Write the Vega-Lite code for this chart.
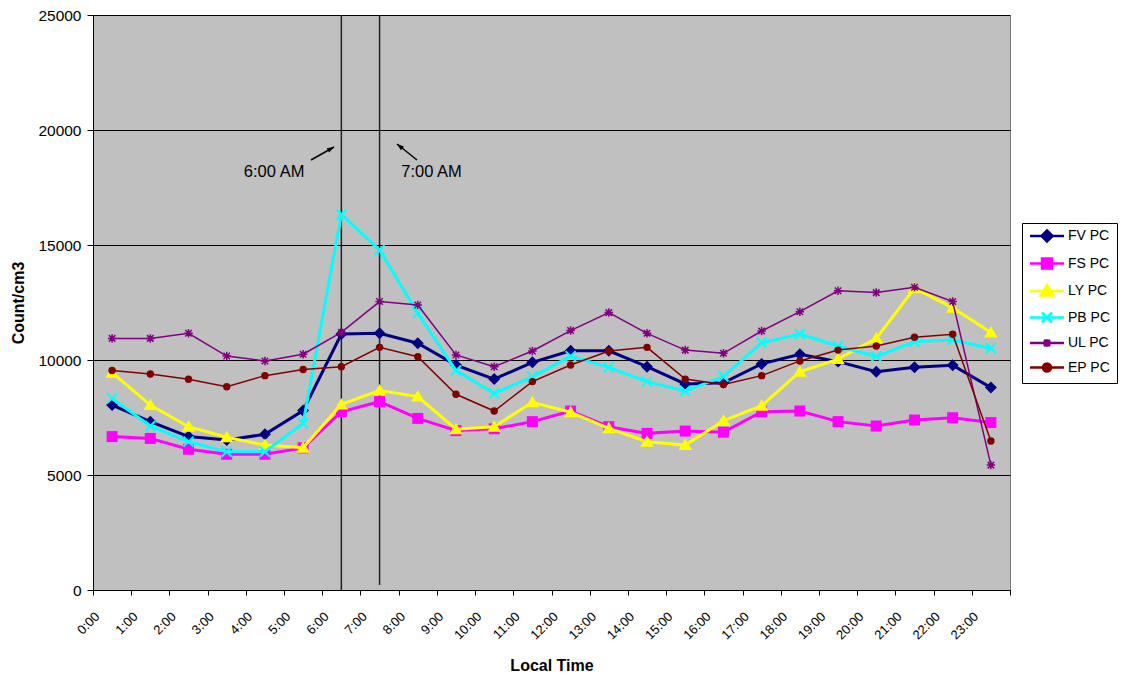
{
  "$schema": "https://vega.github.io/schema/vega-lite/v6.json",
  "width": 917,
  "height": 575,
  "autosize": "none",
  "padding": {"left": 93, "top": 15, "right": 112, "bottom": 88},
  "background": "white",
  "config": {
    "font": "Liberation Sans",
    "view": {"fill": "#C0C0C0", "stroke": "#808080", "strokeWidth": 1},
    "axis": {"domainColor": "black", "tickColor": "black", "gridColor": "black", "labelColor": "black", "titleColor": "black", "labelFont": "Liberation Sans", "titleFont": "Liberation Sans"},
    "legend": {"labelFont": "Liberation Sans", "labelFontSize": 14, "labelColor": "black"}
  },
  "datasets": {
    "pc": [
      {"t": 0.5, "series": "FV PC", "value": 8040}, {"t": 1.5, "series": "FV PC", "value": 7320}, {"t": 2.5, "series": "FV PC", "value": 6670}, {"t": 3.5, "series": "FV PC", "value": 6520}, {"t": 4.5, "series": "FV PC", "value": 6770}, {"t": 5.5, "series": "FV PC", "value": 7800}, {"t": 6.5, "series": "FV PC", "value": 11130}, {"t": 7.5, "series": "FV PC", "value": 11160}, {"t": 8.5, "series": "FV PC", "value": 10730}, {"t": 9.5, "series": "FV PC", "value": 9780}, {"t": 10.5, "series": "FV PC", "value": 9170}, {"t": 11.5, "series": "FV PC", "value": 9900}, {"t": 12.5, "series": "FV PC", "value": 10400}, {"t": 13.5, "series": "FV PC", "value": 10400}, {"t": 14.5, "series": "FV PC", "value": 9710}, {"t": 15.5, "series": "FV PC", "value": 8960}, {"t": 16.5, "series": "FV PC", "value": 9010}, {"t": 17.5, "series": "FV PC", "value": 9830}, {"t": 18.5, "series": "FV PC", "value": 10250}, {"t": 19.5, "series": "FV PC", "value": 9930}, {"t": 20.5, "series": "FV PC", "value": 9490}, {"t": 21.5, "series": "FV PC", "value": 9680}, {"t": 22.5, "series": "FV PC", "value": 9770}, {"t": 23.5, "series": "FV PC", "value": 8800},
      {"t": 0.5, "series": "FS PC", "value": 6670}, {"t": 1.5, "series": "FS PC", "value": 6590}, {"t": 2.5, "series": "FS PC", "value": 6120}, {"t": 3.5, "series": "FS PC", "value": 5900}, {"t": 4.5, "series": "FS PC", "value": 5900}, {"t": 5.5, "series": "FS PC", "value": 6180}, {"t": 6.5, "series": "FS PC", "value": 7750}, {"t": 7.5, "series": "FS PC", "value": 8190}, {"t": 8.5, "series": "FS PC", "value": 7460}, {"t": 9.5, "series": "FS PC", "value": 6930}, {"t": 10.5, "series": "FS PC", "value": 7010}, {"t": 11.5, "series": "FS PC", "value": 7320}, {"t": 12.5, "series": "FS PC", "value": 7780}, {"t": 13.5, "series": "FS PC", "value": 7100}, {"t": 14.5, "series": "FS PC", "value": 6810}, {"t": 15.5, "series": "FS PC", "value": 6910}, {"t": 16.5, "series": "FS PC", "value": 6860}, {"t": 17.5, "series": "FS PC", "value": 7750}, {"t": 18.5, "series": "FS PC", "value": 7780}, {"t": 19.5, "series": "FS PC", "value": 7320}, {"t": 20.5, "series": "FS PC", "value": 7130}, {"t": 21.5, "series": "FS PC", "value": 7390}, {"t": 22.5, "series": "FS PC", "value": 7490}, {"t": 23.5, "series": "FS PC", "value": 7280},
      {"t": 0.5, "series": "LY PC", "value": 9450}, {"t": 1.5, "series": "LY PC", "value": 8040}, {"t": 2.5, "series": "LY PC", "value": 7100}, {"t": 3.5, "series": "LY PC", "value": 6640}, {"t": 4.5, "series": "LY PC", "value": 6300}, {"t": 5.5, "series": "LY PC", "value": 6190}, {"t": 6.5, "series": "LY PC", "value": 8070}, {"t": 7.5, "series": "LY PC", "value": 8670}, {"t": 8.5, "series": "LY PC", "value": 8410}, {"t": 9.5, "series": "LY PC", "value": 6990}, {"t": 10.5, "series": "LY PC", "value": 7100}, {"t": 11.5, "series": "LY PC", "value": 8160}, {"t": 12.5, "series": "LY PC", "value": 7730}, {"t": 13.5, "series": "LY PC", "value": 7030}, {"t": 14.5, "series": "LY PC", "value": 6450}, {"t": 15.5, "series": "LY PC", "value": 6300}, {"t": 16.5, "series": "LY PC", "value": 7360}, {"t": 17.5, "series": "LY PC", "value": 8010}, {"t": 18.5, "series": "LY PC", "value": 9490}, {"t": 19.5, "series": "LY PC", "value": 10040}, {"t": 20.5, "series": "LY PC", "value": 10940}, {"t": 21.5, "series": "LY PC", "value": 13120}, {"t": 22.5, "series": "LY PC", "value": 12270}, {"t": 23.5, "series": "LY PC", "value": 11200},
      {"t": 0.5, "series": "PB PC", "value": 8330}, {"t": 1.5, "series": "PB PC", "value": 7130}, {"t": 2.5, "series": "PB PC", "value": 6450}, {"t": 3.5, "series": "PB PC", "value": 6010}, {"t": 4.5, "series": "PB PC", "value": 6010}, {"t": 5.5, "series": "PB PC", "value": 7250}, {"t": 6.5, "series": "PB PC", "value": 16330}, {"t": 7.5, "series": "PB PC", "value": 14780}, {"t": 8.5, "series": "PB PC", "value": 12030}, {"t": 9.5, "series": "PB PC", "value": 9540}, {"t": 10.5, "series": "PB PC", "value": 8550}, {"t": 11.5, "series": "PB PC", "value": 9270}, {"t": 12.5, "series": "PB PC", "value": 10170}, {"t": 13.5, "series": "PB PC", "value": 9680}, {"t": 14.5, "series": "PB PC", "value": 9060}, {"t": 15.5, "series": "PB PC", "value": 8650}, {"t": 16.5, "series": "PB PC", "value": 9280}, {"t": 17.5, "series": "PB PC", "value": 10750}, {"t": 18.5, "series": "PB PC", "value": 11130}, {"t": 19.5, "series": "PB PC", "value": 10610}, {"t": 20.5, "series": "PB PC", "value": 10150}, {"t": 21.5, "series": "PB PC", "value": 10800}, {"t": 22.5, "series": "PB PC", "value": 10870}, {"t": 23.5, "series": "PB PC", "value": 10510},
      {"t": 0.5, "series": "UL PC", "value": 10940}, {"t": 1.5, "series": "UL PC", "value": 10940}, {"t": 2.5, "series": "UL PC", "value": 11160}, {"t": 3.5, "series": "UL PC", "value": 10170}, {"t": 4.5, "series": "UL PC", "value": 9960}, {"t": 5.5, "series": "UL PC", "value": 10250}, {"t": 6.5, "series": "UL PC", "value": 11200}, {"t": 7.5, "series": "UL PC", "value": 12540}, {"t": 8.5, "series": "UL PC", "value": 12390}, {"t": 9.5, "series": "UL PC", "value": 10220}, {"t": 10.5, "series": "UL PC", "value": 9710}, {"t": 11.5, "series": "UL PC", "value": 10390}, {"t": 12.5, "series": "UL PC", "value": 11280}, {"t": 13.5, "series": "UL PC", "value": 12060}, {"t": 14.5, "series": "UL PC", "value": 11160}, {"t": 15.5, "series": "UL PC", "value": 10430}, {"t": 16.5, "series": "UL PC", "value": 10290}, {"t": 17.5, "series": "UL PC", "value": 11260}, {"t": 18.5, "series": "UL PC", "value": 12100}, {"t": 19.5, "series": "UL PC", "value": 13010}, {"t": 20.5, "series": "UL PC", "value": 12930}, {"t": 21.5, "series": "UL PC", "value": 13160}, {"t": 22.5, "series": "UL PC", "value": 12540}, {"t": 23.5, "series": "UL PC", "value": 5430},
      {"t": 0.5, "series": "EP PC", "value": 9540}, {"t": 1.5, "series": "EP PC", "value": 9390}, {"t": 2.5, "series": "EP PC", "value": 9160}, {"t": 3.5, "series": "EP PC", "value": 8840}, {"t": 4.5, "series": "EP PC", "value": 9320}, {"t": 5.5, "series": "EP PC", "value": 9590}, {"t": 6.5, "series": "EP PC", "value": 9710}, {"t": 7.5, "series": "EP PC", "value": 10550}, {"t": 8.5, "series": "EP PC", "value": 10140}, {"t": 9.5, "series": "EP PC", "value": 8510}, {"t": 10.5, "series": "EP PC", "value": 7780}, {"t": 11.5, "series": "EP PC", "value": 9060}, {"t": 12.5, "series": "EP PC", "value": 9780}, {"t": 13.5, "series": "EP PC", "value": 10390}, {"t": 14.5, "series": "EP PC", "value": 10550}, {"t": 15.5, "series": "EP PC", "value": 9170}, {"t": 16.5, "series": "EP PC", "value": 8940}, {"t": 17.5, "series": "EP PC", "value": 9320}, {"t": 18.5, "series": "EP PC", "value": 9960}, {"t": 19.5, "series": "EP PC", "value": 10430}, {"t": 20.5, "series": "EP PC", "value": 10610}, {"t": 21.5, "series": "EP PC", "value": 10990}, {"t": 22.5, "series": "EP PC", "value": 11120}, {"t": 23.5, "series": "EP PC", "value": 6480}
    ],
    "vlines": [
      {"t": 6.5, "value": 0, "value2": 25000},
      {"t": 7.5, "value": 220, "value2": 25000}
    ],
    "notes": [
      {"label": "6:00 AM", "t": 4.74, "value": 18170},
      {"label": "7:00 AM", "t": 8.86, "value": 18170}
    ],
    "arrows": [
      {"id": "a6", "t": 6.308, "value": 19261, "t2": 5.706, "value2": 18696},
      {"id": "a7", "t": 7.957, "value": 19391, "t2": 8.48, "value2": 18696}
    ]
  },
  "encoding": {
    "x": {"field": "t", "type": "quantitative", "scale": {"domain": [0, 24], "nice": false, "zero": false},
      "axis": {"title": "Local Time", "titleFontSize": 16, "titleFontWeight": "bold", "titlePadding": 16, "values": [0,1,2,3,4,5,6,7,8,9,10,11,12,13,14,15,16,17,18,19,20,21,22,23,24], "labelExpr": "datum.value < 24 ? datum.value + ':00' : ''", "labelAngle": -45, "labelAlign": "right", "labelBaseline": "middle", "labelFontSize": 13, "labelPadding": 19, "labelOffset": 4, "tickSize": 5, "grid": false, "labelOverlap": false, "labelBound": false}},
    "y": {"field": "value", "type": "quantitative", "scale": {"domain": [0, 25000], "nice": false},
      "axis": {"title": "Count/cm3", "titleFontSize": 16, "titleFontWeight": "bold", "titlePadding": 11, "values": [0, 5000, 10000, 15000, 20000, 25000], "grid": true, "gridColor": "black", "gridOpacity": 1, "tickSize": 6, "labelPadding": 6, "labelFontSize": 15.5, "format": "d"}}
  },
  "layer": [
    {
      "data": {"name": "vlines"},
      "mark": {"type": "rule", "color": "#222222", "strokeWidth": 1.5},
      "encoding": {"y2": {"field": "value2"}}
    },
    {
      "data": {"name": "pc"},
      "transform": [{"filter": "datum.series == 'FV PC'"}],
      "mark": {"type": "line", "color": "#000080", "strokeWidth": 3, "point": {"shape": "M0,-1.2L1.2,0L0,1.2L-1.2,0Z", "size": 100, "filled": true, "color": "#000080", "opacity": 1}}
    },
    {
      "data": {"name": "pc"},
      "transform": [{"filter": "datum.series == 'FS PC'"}],
      "mark": {"type": "line", "color": "#FF00FF", "strokeWidth": 3, "point": {"shape": "M-1.1,-1.1L1.1,-1.1L1.1,1.1L-1.1,1.1Z", "size": 100, "filled": true, "color": "#FF00FF", "opacity": 1}}
    },
    {
      "data": {"name": "pc"},
      "transform": [{"filter": "datum.series == 'LY PC'"}],
      "mark": {"type": "line", "color": "#FFFF00", "strokeWidth": 3, "point": {"shape": "M0,-1.3L1.35,1L-1.35,1Z", "size": 100, "filled": true, "color": "#FFFF00", "opacity": 1}}
    },
    {
      "data": {"name": "pc"},
      "transform": [{"filter": "datum.series == 'PB PC'"}],
      "mark": {"type": "line", "color": "#00FFFF", "strokeWidth": 3, "point": {"shape": "M-1,-1L1,1M-1,1L1,-1", "size": 100, "filled": false, "color": "#00FFFF", "strokeWidth": 2, "opacity": 1}}
    },
    {
      "data": {"name": "pc"},
      "transform": [{"filter": "datum.series == 'UL PC'"}],
      "mark": {"type": "line", "color": "#800080", "strokeWidth": 1.5, "point": {"shape": "M-0.65,-0.65L0.65,0.65M-0.65,0.65L0.65,-0.65M0,-0.85L0,0.85M-0.85,0L0.85,0", "size": 100, "filled": false, "color": "#800080", "strokeWidth": 1.5, "opacity": 1}}
    },
    {
      "data": {"name": "pc"},
      "transform": [{"filter": "datum.series == 'EP PC'"}],
      "mark": {"type": "line", "color": "#800000", "strokeWidth": 1.5, "point": {"shape": "circle", "size": 55, "filled": true, "color": "#800000", "opacity": 1}}
    },
    {
      "data": {"name": "notes"},
      "mark": {"type": "text", "fontSize": 16.5, "color": "black", "font": "Liberation Sans"},
      "encoding": {"text": {"field": "label"}}
    },
    {
      "data": {"name": "arrows"},
      "mark": {"type": "rule", "color": "black", "strokeWidth": 1.5},
      "encoding": {"x2": {"field": "t2"}, "y2": {"field": "value2"}}
    },
    {
      "data": {"name": "arrows"},
      "transform": [{"filter": "datum.id == 'a6'"}],
      "mark": {"type": "point", "shape": "M0,0L0.5,1.4L-0.5,1.4Z", "size": 100, "filled": true, "color": "black", "opacity": 1, "angle": 60.5}
    },
    {
      "data": {"name": "arrows"},
      "transform": [{"filter": "datum.id == 'a7'"}],
      "mark": {"type": "point", "shape": "M0,0L0.5,1.4L-0.5,1.4Z", "size": 100, "filled": true, "color": "black", "opacity": 1, "angle": 308.7}
    },
    {
      "data": {"name": "pc"},
      "transform": [{"filter": "datum.value < 0"}],
      "mark": {"type": "point", "filled": true, "opacity": 1},
      "encoding": {
        "fill": {"field": "series", "type": "nominal",
          "scale": {"domain": ["FV PC", "FS PC", "LY PC", "PB PC", "UL PC", "EP PC"], "range": ["#000080", "#FF00FF", "#FFFF00", "#00FFFF", "#800080", "#800000"]},
          "legend": {"title": null, "orient": "none", "legendX": 929, "legendY": 208, "padding": 6, "strokeColor": "black", "fillColor": "white", "rowPadding": 6.5, "labelOffset": 26, "symbolSize": 100, "labelFontSize": 14}},
        "stroke": {"field": "series", "type": "nominal",
          "scale": {"domain": ["FV PC", "FS PC", "LY PC", "PB PC", "UL PC", "EP PC"], "range": ["#000080", "#FF00FF", "#FFFF00", "#00FFFF", "#800080", "#800000"]},
          "legend": {"title": null, "orient": "none", "legendX": 929, "legendY": 208, "padding": 6, "strokeColor": "black", "fillColor": "white", "rowPadding": 6.5, "labelOffset": 26, "symbolSize": 100, "labelFontSize": 14}},
        "shape": {"field": "series", "type": "nominal",
          "scale": {"domain": ["FV PC", "FS PC", "LY PC", "PB PC", "UL PC", "EP PC"], "range": [
            "M-1,0L5.8,0M2.4,-1.1L3.5,0L2.4,1.1L1.3,0Z",
            "M-1,0L5.8,0M1.4,-1L3.4,-1L3.4,1L1.4,1Z",
            "M-1,0L5.8,0M2.4,-1.2L3.7,0.9L1.1,0.9Z",
            "M-1,0L5.8,0M1.4,-1L3.4,1M1.4,1L3.4,-1",
            "M-1,0L5.8,0M1.8,-0.6L3,0.6M1.8,0.6L3,-0.6M2.4,-0.75L2.4,0.75",
            "M-1,0L5.8,0M1.6,0A0.8,0.8 0 1,0 3.2,0A0.8,0.8 0 1,0 1.6,0Z"
          ]},
          "legend": {"title": null, "orient": "none", "legendX": 929, "legendY": 208, "padding": 6, "strokeColor": "black", "fillColor": "white", "rowPadding": 6.5, "labelOffset": 26, "symbolSize": 100, "labelFontSize": 14}},
        "strokeWidth": {"field": "series", "type": "nominal",
          "scale": {"domain": ["FV PC", "FS PC", "LY PC", "PB PC", "UL PC", "EP PC"], "range": [2.5, 2.5, 2.5, 2, 1.5, 1.5]},
          "legend": {"title": null, "orient": "none", "legendX": 929, "legendY": 208, "padding": 6, "strokeColor": "black", "fillColor": "white", "rowPadding": 6.5, "labelOffset": 26, "symbolSize": 100, "labelFontSize": 14}}
      }
    }
  ]
}
